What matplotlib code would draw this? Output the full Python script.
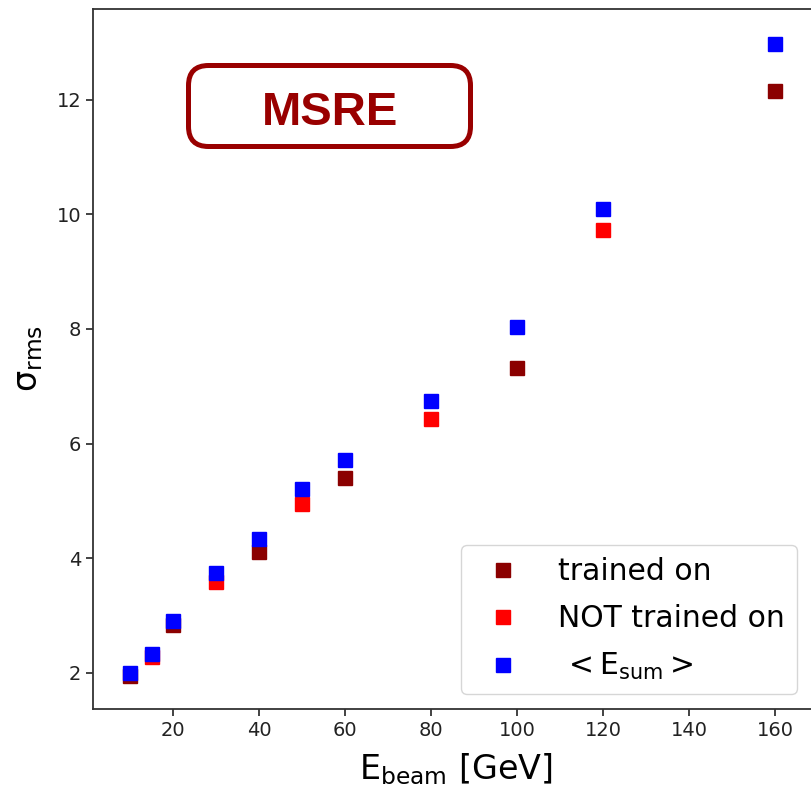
import matplotlib
matplotlib.use("Agg")
import matplotlib.pyplot as plt
from matplotlib.patches import FancyBboxPatch

# ── DATA ──────────────────────────────────────────────────────────────────────
E_TRAINED     = [10, 20, 40, 60, 100, 160]
SIG_TRAINED   = [1.94, 2.84, 4.11, 5.39, 7.31, 12.14]

E_NOT_TRAINED   = [15, 30, 50, 80, 120]
SIG_NOT_TRAINED = [2.28, 3.59, 4.94, 6.43, 9.73]

E_SUM   = [10, 15, 20, 30, 40, 50, 60, 80, 100, 120, 160]
SIG_SUM = [2.00, 2.33, 2.91, 3.74, 4.33, 5.20, 5.71, 6.75, 8.04, 10.09, 12.96]

X_TICKS = [20, 40, 60, 80, 100, 120, 140, 160]
Y_TICKS = [2, 4, 6, 8, 10, 12]
# ──────────────────────────────────────────────────────────────────────────────

fig = plt.figure(figsize=(8.11, 7.91), dpi=100)
ax = fig.add_axes([0.1147, 0.1037, 0.894, 0.885])

ms = 10
ax.plot(E_TRAINED, SIG_TRAINED, "s", color="#8B0000", ms=ms, ls="none",
        label="trained on")
ax.plot(E_NOT_TRAINED, SIG_NOT_TRAINED, "s", color="#FF0000", ms=ms, ls="none",
        label="NOT trained on")
ax.plot(E_SUM, SIG_SUM, "s", color="#0000FF", ms=ms, ls="none",
        label=r"$\,<\mathrm{E_{sum}}>$")

ax.set_xlim(1.4, 170)
ax.set_ylim(1.37, 13.58)
ax.set_xticks(X_TICKS)
ax.set_yticks(Y_TICKS)
ax.tick_params(labelsize=14, length=5, width=1.2, colors="#222222")
for sp in ax.spines.values():
    sp.set_linewidth(1.3)
    sp.set_color("#333333")

ax.set_xlabel(r"$\mathrm{E_{beam}}$ [GeV]", fontsize=24, labelpad=8)
ax.set_ylabel(r"$\mathrm{\sigma_{rms}}$", fontsize=24, labelpad=8)

leg = ax.legend(loc="lower right", bbox_to_anchor=(0.971, 0.021),
                borderaxespad=0, fontsize=21.5, handletextpad=0.85,
                borderpad=0.4, labelspacing=0.6, markerscale=1.0)
leg.get_frame().set_linewidth(1.0)

# rounded title box, positioned in inches from the lower-left corner
box = FancyBboxPatch((1.885, 6.445), 2.82, 0.81,
                     boxstyle="round,pad=0,rounding_size=0.2",
                     transform=fig.dpi_scale_trans, fc="white",
                     ec="#990000", lw=3.6, zorder=5)
fig.patches.append(box)
fig.text(3.30, 6.66, "MSRE", transform=fig.dpi_scale_trans,
         ha="center", va="baseline", fontsize=34, fontweight="bold",
         family="Liberation Sans", color="#990000", zorder=6)

fig.savefig("out.png", dpi=100)
